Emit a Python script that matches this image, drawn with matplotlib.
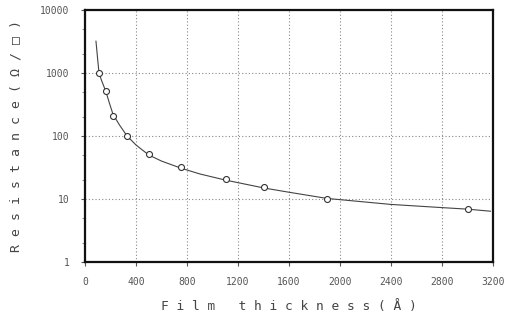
import matplotlib
matplotlib.use("Agg")
import matplotlib.pyplot as plt
from matplotlib.ticker import LogLocator, NullFormatter

# measured points
thickness = [110, 165, 220, 330, 500, 750, 1105, 1400, 1900, 3000]
resistance = [1000, 520, 210, 100, 51, 32, 21, 15.5, 10, 6.9]

# fitted curve
curve_x = [86, 100, 110, 130, 165, 190, 220, 270, 330, 400, 500, 600, 750, 900, 1100, 1400, 1600, 1900, 2400, 2800, 3000, 3180]
curve_y = [3200, 1600, 1000, 760, 500, 340, 220, 150, 100, 72, 50, 40, 31, 25, 20, 15, 12.8, 10.2, 8.2, 7.3, 6.9, 6.4]

x_ticks = [0, 400, 800, 1200, 1600, 2000, 2400, 2800, 3200]
x_ticklabels = ["0", "400", "800", "1200", "1600", "2000", "2400", "2800", "3200"]
y_ticks = [1, 10, 100, 1000, 10000]
y_ticklabels = ["1", "10", "100", "1000", "10000"]

fig = plt.figure(figsize=(5.13, 3.23), dpi=100)
ax = fig.add_axes([85/513, 1-262/323, (493-85)/513, (262-10)/323])

ax.set_yscale("log")
ax.set_xlim(0, 3200)
ax.set_ylim(1, 10000)

ax.plot(curve_x, curve_y, color="#444444", lw=0.8, zorder=3)
ax.plot(thickness, resistance, linestyle="none", marker="o", ms=4.3,
        mfc="white", mec="#333333", mew=0.8, zorder=4)

ax.set_xticks(x_ticks)
ax.set_xticklabels(x_ticklabels)
ax.set_yticks(y_ticks)
ax.set_yticklabels(y_ticklabels)
ax.yaxis.set_minor_locator(LogLocator(base=10, subs=[2, 5], numticks=20))
ax.yaxis.set_minor_formatter(NullFormatter())

ax.grid(True, which="major", color="#888888", linestyle=(0, (1, 2)), lw=0.8)

for s in ax.spines.values():
    s.set_color("#111111")
    s.set_linewidth(1.6)

ax.tick_params(axis="both", which="major", length=3, width=0.8, color="#555555",
               labelsize=7, labelcolor="#555555", pad=8)
ax.tick_params(axis="y", which="minor", length=2, width=0.6, color="#777777")
for lab in ax.get_xticklabels() + ax.get_yticklabels():
    lab.set_family("DejaVu Sans Mono")

ax.set_xlabel("F i l m   t h i c k n e s s ( Å )", family="DejaVu Sans Mono",
              fontsize=9.3, color="#444444", labelpad=9)
ax.set_ylabel("R e s i s t a n c e ( Ω / □ )", family="DejaVu Sans Mono",
              fontsize=9.5, color="#444444", labelpad=13)

fig.savefig("out.png", dpi=100, facecolor="white")
